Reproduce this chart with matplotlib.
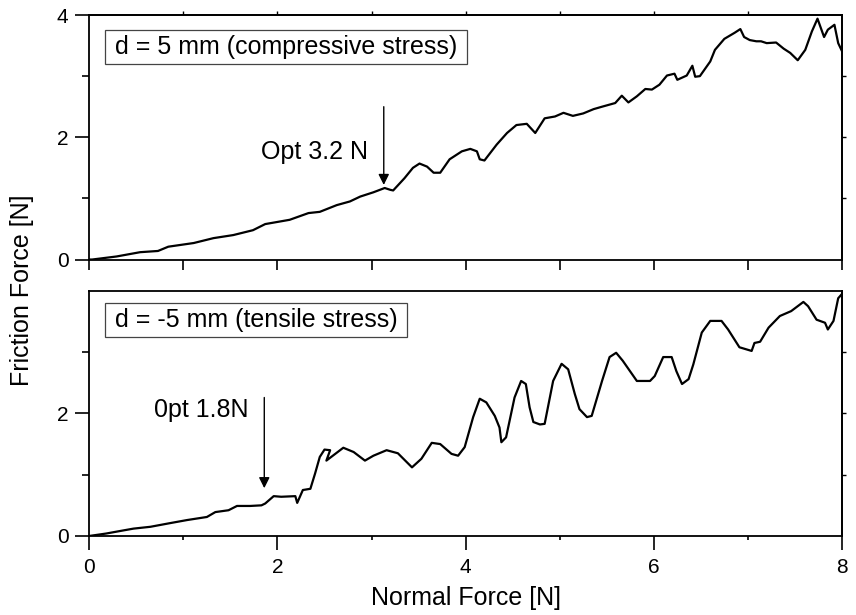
"""Friction force vs. normal force for compressive and tensile pre-stress."""
import matplotlib
matplotlib.use('Agg')
import matplotlib.pyplot as plt
from matplotlib.patches import Rectangle
import numpy as np

plt.rcParams['font.family'] = ['Liberation Sans', 'DejaVu Sans']

# d = 5 mm (compressive stress)
comp_fn = [0.0, 0.03, 0.29, 0.54, 0.73, 0.84, 1.11, 1.32, 1.53, 1.74, 1.87, 2.13,
           2.33, 2.45, 2.63, 2.77, 2.88, 3.02, 3.14, 3.20, 3.23, 3.35, 3.44, 3.51,
           3.59, 3.66, 3.73, 3.83, 3.96, 4.05, 4.12, 4.15, 4.20, 4.33, 4.44, 4.54,
           4.65, 4.74, 4.84, 4.95, 5.04, 5.14, 5.25, 5.36, 5.45, 5.59, 5.66, 5.73,
           5.82, 5.91, 5.98, 6.06, 6.14, 6.22, 6.25, 6.35, 6.41, 6.44, 6.49, 6.60,
           6.65, 6.75, 6.86, 6.92, 6.96, 7.02, 7.09, 7.14, 7.20, 7.30, 7.38, 7.45,
           7.53, 7.61, 7.68, 7.74, 7.81, 7.85, 7.92, 7.96, 8.0]
comp_ff = [0.0, 0.0, 0.05, 0.12, 0.14, 0.21, 0.27, 0.35, 0.40, 0.48, 0.58, 0.65,
           0.76, 0.78, 0.89, 0.95, 1.03, 1.10, 1.17, 1.14, 1.13, 1.33, 1.50, 1.57,
           1.52, 1.42, 1.42, 1.64, 1.77, 1.81, 1.77, 1.64, 1.62, 1.88, 2.07, 2.20,
           2.22, 2.07, 2.31, 2.34, 2.40, 2.35, 2.39, 2.46, 2.50, 2.56, 2.68, 2.57,
           2.67, 2.79, 2.78, 2.86, 3.01, 3.04, 2.94, 3.01, 3.17, 2.99, 3.00, 3.24,
           3.43, 3.61, 3.71, 3.77, 3.64, 3.59, 3.57, 3.57, 3.54, 3.55, 3.45, 3.38,
           3.26, 3.43, 3.73, 3.94, 3.64, 3.76, 3.84, 3.54, 3.41]

# d = -5 mm (tensile stress)
tens_fn = [0.0, 0.18, 0.36, 0.47, 0.65, 0.86, 1.04, 1.25, 1.34, 1.48, 1.57, 1.71,
           1.83, 1.87, 1.96, 2.04, 2.19, 2.21, 2.27, 2.35, 2.40, 2.45, 2.50, 2.56,
           2.52, 2.70, 2.81, 2.93, 3.02, 3.16, 3.28, 3.43, 3.53, 3.64, 3.73, 3.85,
           3.92, 3.99, 4.08, 4.15, 4.22, 4.31, 4.36, 4.38, 4.43, 4.52, 4.59, 4.64,
           4.68, 4.72, 4.79, 4.84, 4.93, 5.02, 5.09, 5.16, 5.21, 5.29, 5.34, 5.45,
           5.53, 5.60, 5.67, 5.82, 5.96, 6.01, 6.10, 6.19, 6.24, 6.30, 6.37, 6.42,
           6.51, 6.60, 6.72, 6.79, 6.91, 7.04, 7.07, 7.13, 7.22, 7.34, 7.46, 7.59,
           7.64, 7.73, 7.82, 7.85, 7.91, 7.96, 8.0]
tens_ff = [0.0, 0.04, 0.09, 0.12, 0.15, 0.21, 0.26, 0.31, 0.39, 0.42, 0.49, 0.49,
           0.50, 0.53, 0.65, 0.64, 0.65, 0.54, 0.75, 0.77, 1.02, 1.29, 1.41, 1.40,
           1.23, 1.44, 1.37, 1.23, 1.31, 1.40, 1.35, 1.12, 1.26, 1.52, 1.50, 1.34,
           1.31, 1.45, 1.94, 2.24, 2.18, 1.96, 1.77, 1.53, 1.61, 2.26, 2.53, 2.48,
           2.10, 1.86, 1.82, 1.83, 2.53, 2.81, 2.72, 2.32, 2.07, 1.94, 1.96, 2.53,
           2.92, 2.99, 2.86, 2.53, 2.53, 2.61, 2.92, 2.92, 2.69, 2.48, 2.56, 2.80,
           3.32, 3.51, 3.51, 3.37, 3.08, 3.02, 3.15, 3.17, 3.40, 3.59, 3.67, 3.82,
           3.75, 3.53, 3.48, 3.37, 3.51, 3.88, 3.95]

# (x, y, label, arrow x, arrow tip y, arrow tail y, label y)
panels = [
    (comp_fn, comp_ff, 'd = 5 mm (compressive stress)', 'Opt 3.2 N', 3.13, 1.22, 2.5, 1.76),
    (tens_fn, tens_ff, 'd = -5 mm (tensile stress)', '0pt 1.8N', 1.86, 0.78, 2.26, 2.06),
]

fig = plt.figure(figsize=(8.56, 6.15), dpi=100)
ax_top = fig.add_axes([0.1043, 0.578, 0.8793, 0.3976])
ax_bot = fig.add_axes([0.1043, 0.1285, 0.8793, 0.3985])

boxes = []
for ax, (fn, ff, title, opt, ax_x, tip_y, tail_y, lab_y) in zip([ax_top, ax_bot], panels):
    ax.plot(fn, ff, color='black', lw=1.6, solid_joinstyle='round')
    ax.set_xlim(0, 8)
    ax.set_ylim(0, 4)
    for sp in ax.spines.values():
        sp.set_linewidth(1.3)

    t = ax.text(0.034, 0.871 if ax is ax_top else 0.882, title, transform=ax.transAxes,
                fontsize=18, va='center', ha='left')
    boxes.append((ax, t))

    # arrow marking the optimum normal force
    ax.annotate('', xy=(ax_x, tip_y), xytext=(ax_x, tail_y),
                arrowprops=dict(arrowstyle='-|>', color='black', lw=1.0,
                                mutation_scale=16, shrinkA=0, shrinkB=0))
    ax.text(ax_x - 0.17, lab_y, opt, fontsize=18, ha='right', va='center')

    ax.set_yticks([1, 3], minor=True)
    ax.tick_params(axis='y', which='major', direction='out', length=10, width=1.2,
                   labelsize=15, pad=5)
    ax.tick_params(axis='y', which='minor', direction='out', length=5, width=1.2)

    # short ticks on the right spine
    sec_y = ax.secondary_yaxis('right')
    sec_y.set_yticks([1, 2, 3])
    sec_y.tick_params(direction='out', length=3, width=1.0, labelright=False)
    sec_y.spines['right'].set_linewidth(1.3)

ax_top.set_yticks([0, 2, 4])
ax_top.set_xticks(np.arange(0, 9, 1))
ax_top.tick_params(axis='x', direction='out', length=7, width=1.2, labelbottom=False)
sec_x = ax_top.secondary_xaxis('top')
sec_x.set_xticks(np.arange(1, 8, 1))
sec_x.tick_params(direction='out', length=3, width=1.0, labeltop=False)
sec_x.spines['top'].set_linewidth(1.3)

ax_bot.set_yticks([0, 2])
ax_bot.set_xticks([0, 2, 4, 6, 8])
ax_bot.set_xticks([1, 3, 5, 7], minor=True)
ax_bot.tick_params(axis='x', which='major', direction='out', length=10, width=1.2,
                   labelsize=15, pad=6)
ax_bot.tick_params(axis='x', which='minor', direction='out', length=3, width=1.2)
ax_bot.set_xlabel('Normal Force [N]', fontsize=18, labelpad=6)

fig.text(0.026, 0.528, 'Friction Force [N]', rotation=90, fontsize=18,
         ha='center', va='center')

# frame each panel title with wider side padding than top/bottom
fig.canvas.draw()
renderer = fig.canvas.get_renderer()
for ax, t in boxes:
    bb = t.get_window_extent(renderer)
    x0, y0 = bb.x0 - 10, bb.y0 - 5
    x1, y1 = bb.x1 + 10, bb.y1 + 5
    (ax0, ay0), (ax1, ay1) = ax.transAxes.inverted().transform([(x0, y0), (x1, y1)])
    ax.add_patch(Rectangle((ax0, ay0), ax1 - ax0, ay1 - ay0, transform=ax.transAxes,
                           fill=False, ec='#444444', lw=0.9, zorder=1))

fig.savefig('out.png', dpi=100)
